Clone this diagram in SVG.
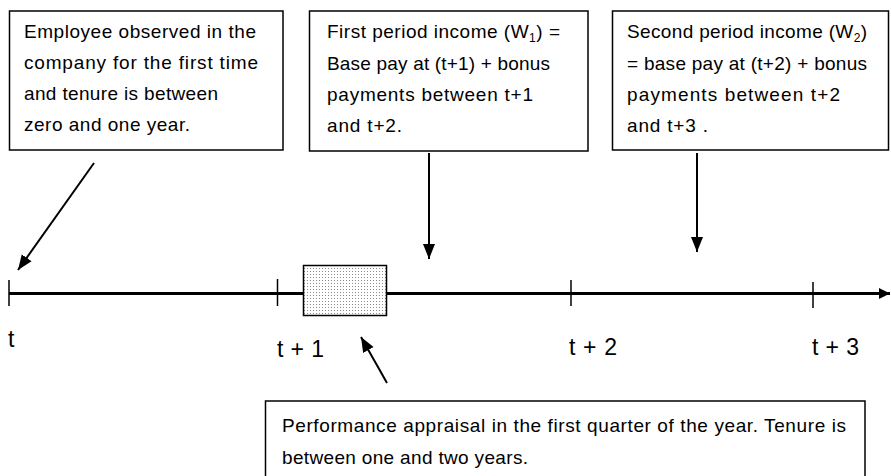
<svg xmlns="http://www.w3.org/2000/svg" width="891" height="476" viewBox="0 0 891 476">
<style>
.box{fill:#fff;stroke:#000;stroke-width:1.5}
.txt{font-family:"Liberation Sans",Arial,sans-serif;font-size:19px;fill:#000}
.lbl{font-family:"Liberation Sans",Arial,sans-serif;font-size:23px;fill:#000}
.arr{stroke:#000;stroke-width:2;fill:none;marker-end:url(#ah)}
.tick{stroke:#000;stroke-width:1.5}
.sub{font-size:12px}
</style>
<defs>
<marker id="ah" markerUnits="userSpaceOnUse" markerWidth="16" markerHeight="14" viewBox="0 0 16 14" refX="15" refY="7" orient="auto">
<path d="M0,1 L15,7 L0,13 Z" fill="#000"/>
</marker>
<marker id="ah2" markerUnits="userSpaceOnUse" markerWidth="12" markerHeight="14" viewBox="0 0 12 14" refX="11" refY="7" orient="auto">
<path d="M0,1.5 L11,7 L0,12.5 Z" fill="#000"/>
</marker>
<pattern id="dots" width="3" height="3" patternUnits="userSpaceOnUse">
<rect width="3" height="3" fill="#fff"/>
<rect x="1" y="1" width="1" height="1" fill="#8a8a8a"/>
</pattern>
</defs>

<g id="timeline">
<line x1="9" y1="293.5" x2="890" y2="293.5" stroke="#000" stroke-width="3" marker-end="url(#ah2)"/>
<line class="tick" x1="9" y1="280" x2="9" y2="306"/>
<line class="tick" x1="277.5" y1="279" x2="277.5" y2="306"/>
<line class="tick" x1="571" y1="280" x2="571" y2="306"/>
<line class="tick" x1="813" y1="282" x2="813" y2="308"/>
<text class="lbl" x="8" y="347">t</text>
<text class="lbl" x="277" y="357" textLength="47" lengthAdjust="spacing">t + 1</text>
<text class="lbl" x="569" y="355" textLength="48" lengthAdjust="spacing">t + 2</text>
<text class="lbl" x="812" y="355" textLength="47" lengthAdjust="spacing">t + 3</text>
</g>

<g id="appraisal-period">
<rect x="303.5" y="265.5" width="83" height="50" fill="url(#dots)" stroke="#000" stroke-width="1.5"/>
</g>

<g id="node-start">
<rect class="box" x="9.5" y="11" width="273.5" height="139"/>
<text class="txt" x="24" y="38" textLength="232" lengthAdjust="spacing">Employee observed in the</text>
<text class="txt" x="24" y="69" textLength="234" lengthAdjust="spacing">company for the first time</text>
<text class="txt" x="24" y="100" textLength="194" lengthAdjust="spacing">and tenure is between</text>
<text class="txt" x="24" y="131" textLength="166" lengthAdjust="spacing">zero and one year.</text>
</g>

<g id="node-w1">
<rect class="box" x="309.5" y="11" width="278.5" height="140"/>
<text class="txt" x="327" y="38" textLength="233" lengthAdjust="spacing">First period income (W<tspan class="sub" dy="4">1</tspan><tspan dy="-4">) =</tspan></text>
<text class="txt" x="327" y="70" textLength="223" lengthAdjust="spacing">Base pay at (t+1) + bonus</text>
<text class="txt" x="327" y="101" textLength="206" lengthAdjust="spacing">payments between t+1</text>
<text class="txt" x="327" y="132" textLength="75" lengthAdjust="spacing">and t+2.</text>
</g>

<g id="node-w2">
<rect class="box" x="612.5" y="11" width="276" height="139"/>
<text class="txt" x="627" y="38" textLength="240" lengthAdjust="spacing">Second period income (W<tspan class="sub" dy="4">2</tspan><tspan dy="-4">)</tspan></text>
<text class="txt" x="627" y="70" textLength="240" lengthAdjust="spacing">= base pay at (t+2) + bonus</text>
<text class="txt" x="627" y="101" textLength="213" lengthAdjust="spacing">payments between t+2</text>
<text class="txt" x="627" y="132" textLength="81" lengthAdjust="spacing">and t+3 .</text>
</g>

<g id="node-appraisal">
<rect class="box" x="265.5" y="401" width="599.5" height="90"/>
<text class="txt" x="282" y="432" textLength="564" lengthAdjust="spacing">Performance appraisal in the first quarter of the year. Tenure is</text>
<text class="txt" x="282" y="464" textLength="246" lengthAdjust="spacing">between one and two years.</text>
</g>

<g id="connectors">
<line class="arr" x1="94" y1="163" x2="18" y2="270"/>
<line class="arr" x1="429" y1="153" x2="429" y2="259"/>
<line class="arr" x1="697" y1="153" x2="697" y2="252"/>
<line class="arr" x1="387" y1="383" x2="361" y2="337"/>
</g>
</svg>
